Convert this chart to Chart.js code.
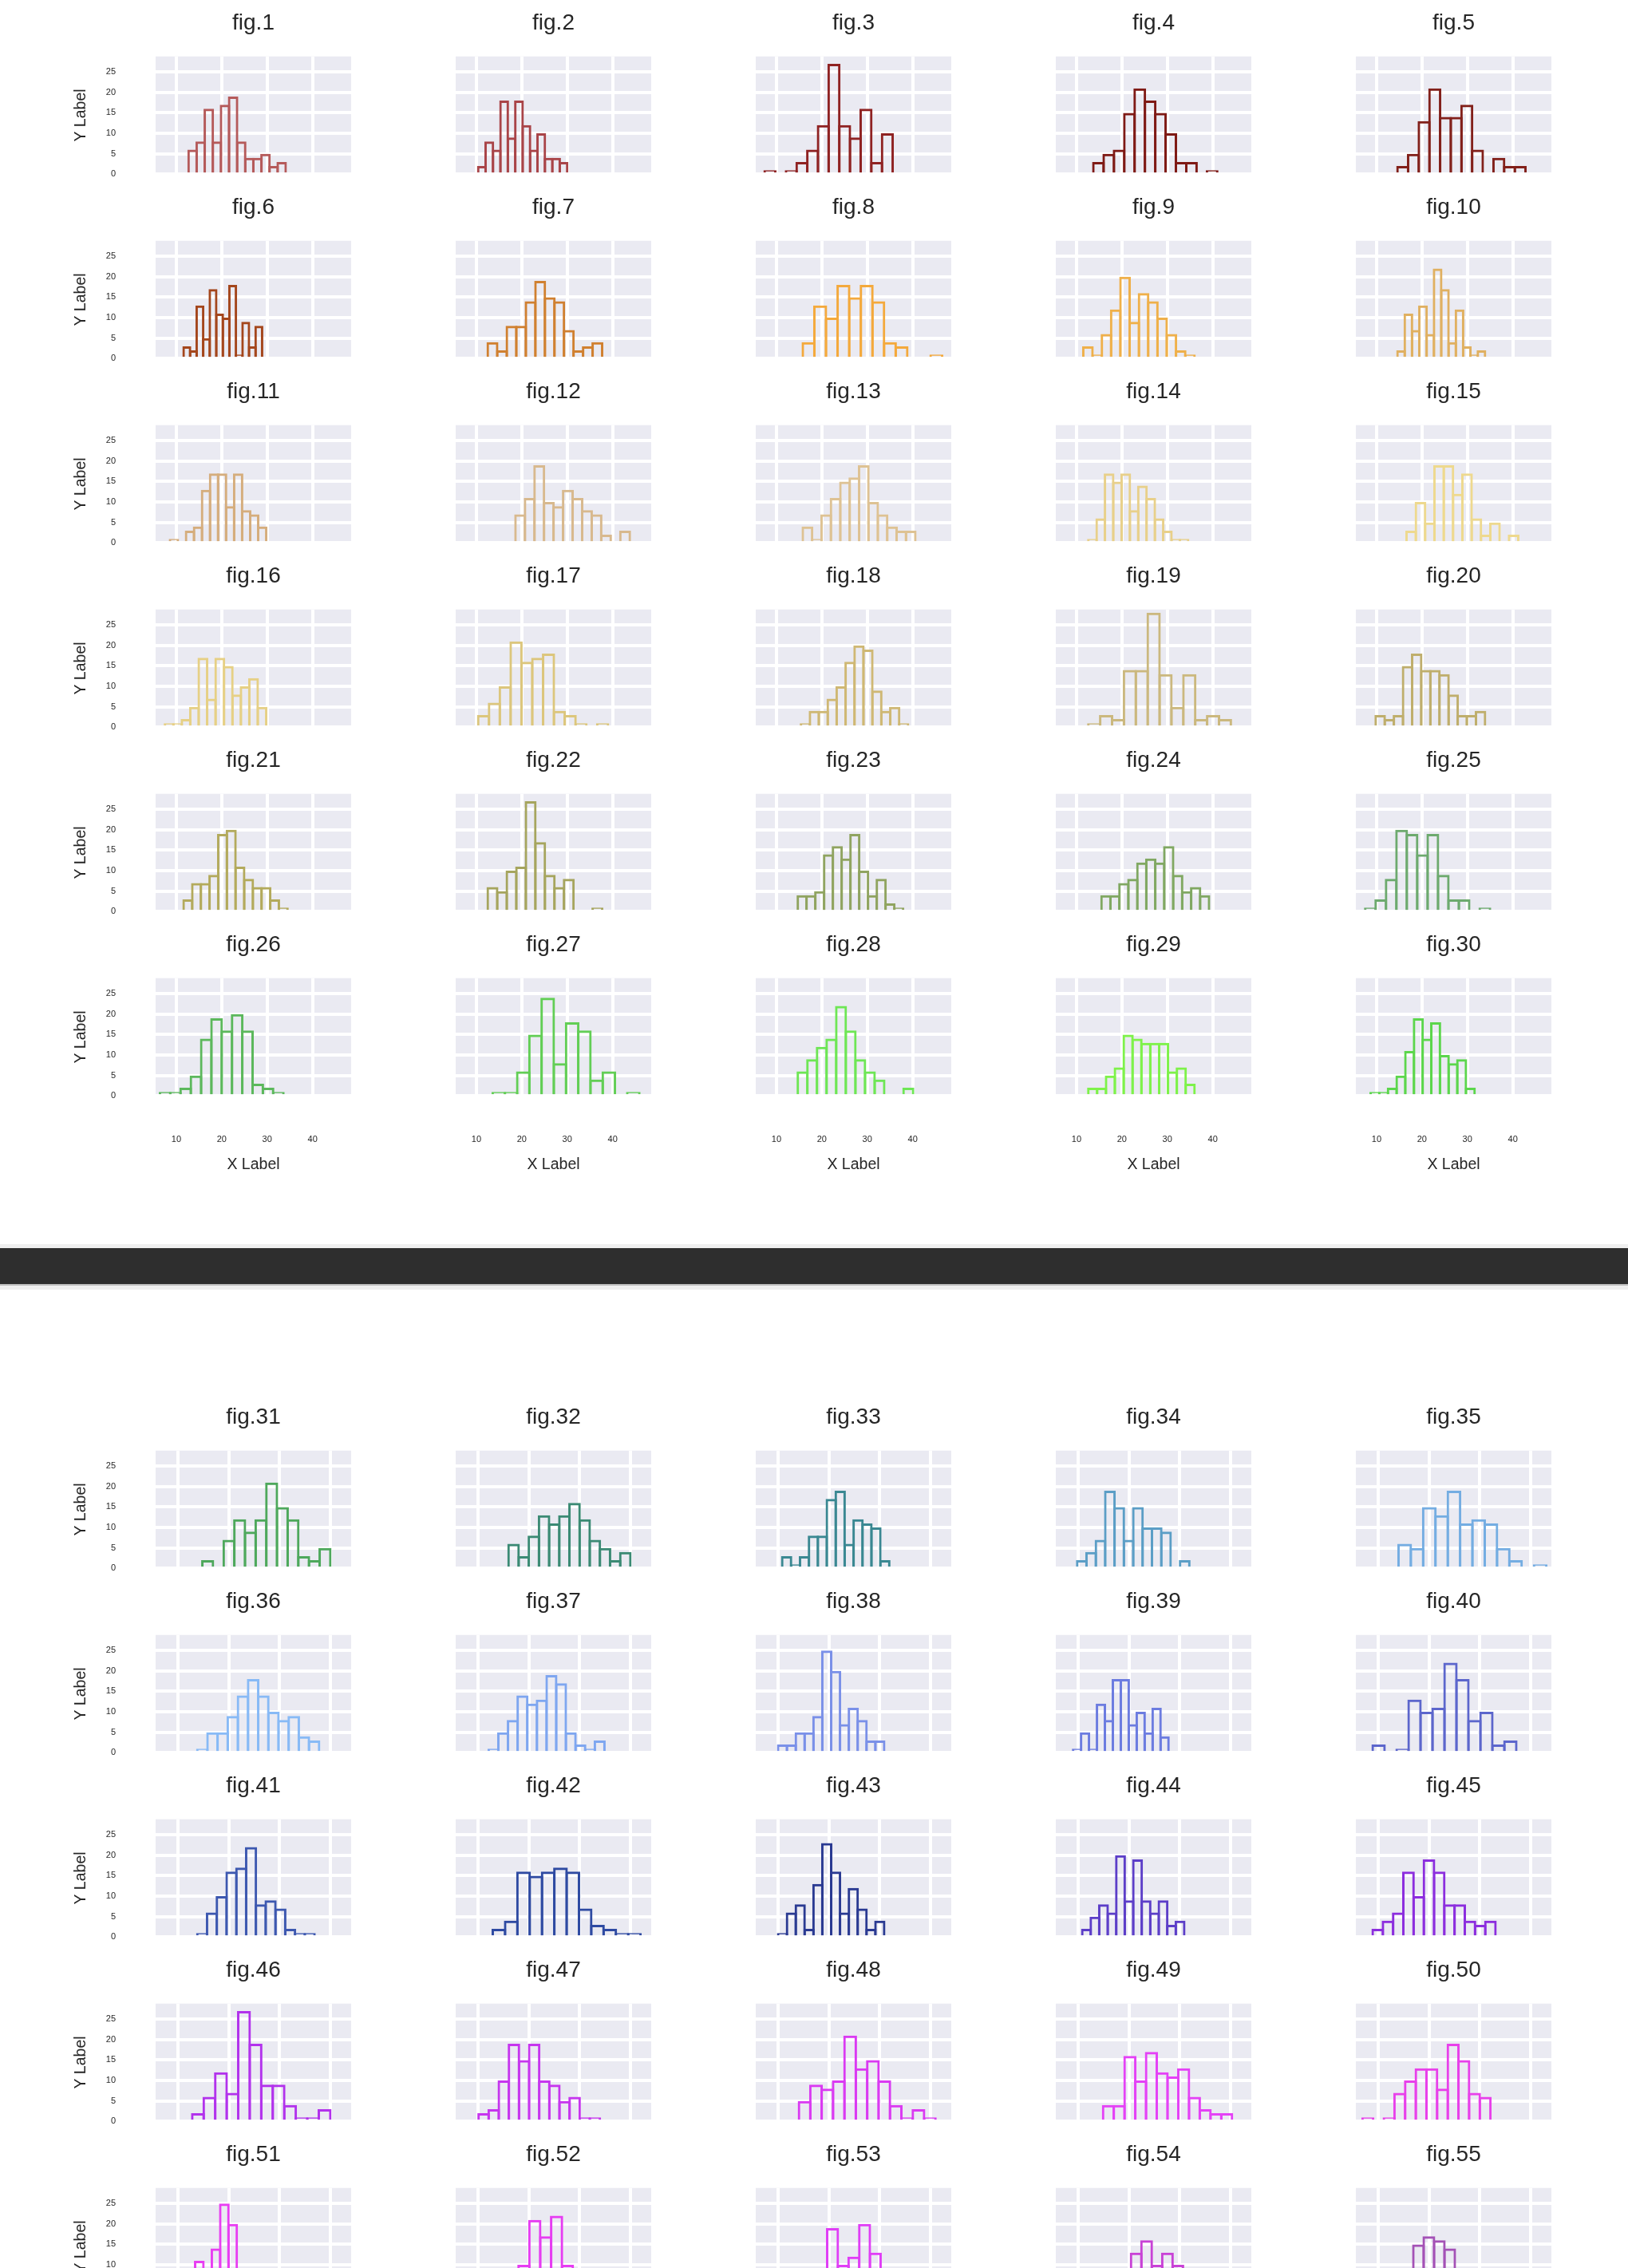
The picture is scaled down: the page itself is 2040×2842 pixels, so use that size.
<!DOCTYPE html>
<html>
<head>
<meta charset="utf-8">
<title>fig grid</title>
<script src="https://cdn.jsdelivr.net/npm/chart.js@4.4.1/dist/chart.umd.min.js"></script>
<style>
  html, body { margin: 0; padding: 0; background: #fff; width: 2040px; height: 2842px; overflow: hidden; }
  #page { position: relative; width: 2040px; height: 2842px; overflow: hidden; }
  #page canvas { position: absolute; }
  .strip { position: absolute; left: 0; width: 2040px; }
</style>
</head>
<body>
<div id="page">
  <div class="strip" style="top:1559px;height:5px;background:#efefef"></div>
  <div class="strip" style="top:1564px;height:45px;background:#2e2e2e"></div>
  <div class="strip" style="top:1609px;height:2px;background:#bdbdbd"></div>
  <div class="strip" style="top:1611px;height:5px;background:#efefef"></div>
</div>
<script>
// --- 1. 資料 (每張圖 100 筆, 12 個 bin) ---
const binLo = [
  12.7, 10.4, 7.4, 13.7, 14.6, 11.6, 12.5, 15.8, 11.5, 14.6,
  8.6, 18.6, 15.8, 12.6, 16.6, 7.5, 10.4, 15.4, 12.6, 9.8,
  11.6, 12.5, 14.7, 15.5, 7.5, 6.4, 13.6, 14.7, 12.6, 8.7,
  14.8, 16.0, 10.8, 9.8, 14.0, 13.8, 12.1, 10.0, 9.0, 8.9,
  13.8, 12.9, 10.0, 10.8, 8.9, 12.8, 10.1, 14.1, 14.9, 6.9,
  10.1, 9.4, 11.25, 12.2, 8.7,
];
const binHi = [
  34.1, 30.0, 35.6, 41.0, 42.8, 28.9, 37.7, 46.5, 36.0, 33.9,
  29.8, 43.8, 40.6, 34.6, 41.2, 29.8, 39.0, 39.0, 44.0, 33.9,
  34.5, 37.7, 37.9, 39.2, 35.0, 33.6, 45.9, 40.1, 36.0, 31.6,
  40.0, 40.0, 31.9, 31.9, 43.1, 37.8, 34.9, 30.9, 27.8, 37.2,
  36.9, 42.0, 30.9, 30.9, 33.1, 40.0, 34.0, 41.0, 40.3, 32.1,
  29.8, 35.1, 36.5, 36.8, 33.3,
];
const counts = [
  [6, 8, 16, 8, 17, 19, 8, 4, 4, 5, 2, 3],
  [2, 8, 6, 18, 9, 18, 12, 6, 10, 4, 4, 3],
  [1, 0, 1, 3, 6, 12, 27, 12, 9, 16, 3, 10],
  [3, 5, 6, 15, 21, 18, 15, 10, 3, 3, 0, 1],
  [2, 5, 13, 21, 14, 14, 17, 6, 0, 4, 2, 2],
  [3, 2, 13, 5, 17, 11, 10, 18, 1, 9, 3, 8],
  [4, 2, 8, 8, 14, 19, 15, 14, 7, 2, 3, 4],
  [4, 13, 10, 18, 15, 18, 14, 4, 3, 0, 0, 1],
  [3, 1, 6, 12, 20, 9, 16, 14, 10, 6, 2, 1],
  [2, 11, 7, 13, 6, 22, 17, 4, 12, 3, 1, 2],
  [1, 0, 3, 4, 13, 17, 17, 9, 17, 8, 7, 4],
  [7, 11, 19, 10, 9, 13, 11, 8, 7, 2, 0, 3],
  [4, 1, 7, 11, 15, 16, 19, 10, 7, 4, 3, 3],
  [1, 6, 17, 15, 17, 8, 14, 11, 6, 3, 1, 1],
  [3, 10, 5, 19, 19, 12, 17, 6, 2, 5, 0, 2],
  [1, 1, 2, 5, 17, 7, 17, 15, 8, 10, 12, 5],
  [3, 6, 10, 21, 16, 17, 18, 4, 3, 1, 0, 1],
  [1, 4, 4, 7, 10, 16, 20, 19, 9, 4, 5, 1],
  [1, 3, 2, 14, 14, 28, 13, 5, 13, 2, 3, 2],
  [3, 2, 3, 15, 18, 14, 14, 13, 8, 3, 3, 4],
  [3, 7, 7, 9, 19, 20, 11, 8, 6, 6, 3, 1],
  [6, 5, 10, 11, 27, 17, 9, 6, 8, 0, 0, 1],
  [4, 4, 5, 14, 16, 13, 19, 10, 4, 8, 2, 1],
  [4, 4, 7, 8, 12, 13, 12, 16, 9, 5, 6, 4],
  [1, 3, 8, 20, 19, 14, 19, 9, 3, 3, 0, 1],
  [1, 1, 2, 5, 14, 19, 16, 20, 16, 3, 2, 1],
  [1, 1, 6, 15, 24, 8, 18, 16, 4, 6, 0, 1],
  [6, 9, 12, 14, 22, 16, 9, 6, 4, 0, 0, 2],
  [2, 2, 5, 7, 15, 14, 13, 13, 13, 6, 7, 3],
  [1, 1, 2, 5, 11, 19, 14, 18, 10, 8, 9, 2],
  [2, 0, 7, 12, 9, 12, 21, 15, 12, 3, 2, 5],
  [6, 3, 8, 13, 11, 13, 16, 12, 7, 5, 2, 4],
  [3, 1, 3, 8, 8, 17, 19, 6, 12, 11, 10, 2],
  [2, 4, 7, 19, 15, 7, 15, 10, 10, 9, 0, 2],
  [6, 5, 15, 13, 19, 11, 12, 11, 5, 2, 0, 1],
  [1, 5, 5, 9, 14, 18, 14, 10, 8, 9, 4, 3],
  [1, 5, 8, 14, 12, 13, 19, 17, 5, 2, 1, 3],
  [2, 2, 5, 5, 9, 25, 20, 7, 11, 8, 3, 3],
  [1, 5, 1, 12, 8, 18, 18, 7, 10, 5, 11, 4],
  [2, 0, 1, 13, 10, 11, 22, 18, 8, 10, 2, 3],
  [1, 6, 10, 16, 17, 22, 8, 9, 7, 2, 1, 1],
  [2, 4, 16, 15, 16, 17, 16, 7, 3, 2, 1, 1],
  [1, 6, 8, 2, 13, 23, 16, 6, 12, 7, 2, 4],
  [2, 5, 8, 6, 20, 9, 19, 9, 6, 9, 3, 4],
  [2, 4, 6, 16, 10, 19, 16, 8, 8, 4, 3, 4],
  [2, 6, 12, 7, 27, 19, 9, 9, 4, 1, 1, 3],
  [2, 3, 10, 19, 15, 19, 10, 9, 5, 6, 1, 1],
  [5, 9, 8, 10, 21, 13, 15, 10, 4, 1, 3, 1],
  [4, 4, 16, 10, 17, 12, 11, 13, 6, 3, 2, 2],
  [1, 0, 1, 7, 10, 13, 13, 8, 19, 15, 7, 6],
  [2, 5, 11, 9, 14, 25, 20, 7, 4, 2, 1, 0],
  [1, 2, 4, 6, 10, 21, 17, 22, 10, 4, 2, 1],
  [1, 3, 4, 8, 19, 10, 12, 20, 13, 6, 3, 1],
  [2, 4, 7, 9, 13, 16, 10, 13, 10, 8, 6, 2],
  [1, 3, 5, 9, 15, 17, 16, 14, 9, 6, 3, 2],
];
const lineColors = [
  "#b55a5a", "#a94448", "#8f2222", "#7f1a15", "#82201a",
  "#a4461c", "#d08030", "#f4a93c", "#efb04a", "#e0b060",
  "#d5ad7c", "#d8b98e", "#dec293", "#e8d08a", "#eed98e",
  "#e6d085", "#dcc67c", "#cfb874", "#cbb87e", "#bfae6c",
  "#b3aa5c", "#a6a55e", "#90a460", "#80a862", "#6daa6e",
  "#5cb85c", "#62ce55", "#6ee655", "#7ef24a", "#5cd64c",
  "#4ea85c", "#3b8a74", "#3a8892", "#5b9ec6", "#74ade2",
  "#88baf6", "#7ea6f0", "#7a90e8", "#6c7ce0", "#5c66cc",
  "#3d58b0", "#2e4aa2", "#2a3a92", "#5c3ec8", "#8c2ede",
  "#b232ec", "#c636ee", "#da3af2", "#e442f6", "#e840ea",
  "#e83ef2", "#e63cf2", "#e03ef6", "#c842d6", "#a452b6",
];

// x 軸範圍 (上半 / 下半), y 軸範圍
const xRangeTop = [5.45, 48.5];
const xRangeBottom = [5.6, 44.1];
const yMax = 28.8;
const yStep = 5;
const xStep = 10;

// --- 2. 版面設定 ---
const FONT = "'Liberation Sans', Arial, sans-serif";
const TEXT_COLOR = "#262626";
const CELL_W = 376;
const CELL_H = 231;
const PLOT_LEFT = 130;
const PLOT_BOTTOM = 218.3;
const PLOT_W = 245;
const EDGE_W = 3;
const sectionTops = [0, 1747];

const page = document.getElementById("page");

const axesBackground = {
  id: "axesBackground",
  beforeDraw(chart) {
    const { ctx, chartArea } = chart;
    ctx.save();
    ctx.fillStyle = "#eaeaf2";
    ctx.fillRect(
      chartArea.left,
      chartArea.top,
      chartArea.right - chartArea.left,
      chartArea.bottom - chartArea.top
    );
    ctx.restore();
  },
};

// --- 3. 畫單張直方圖 ---
function drawHist(idx) {
  const section = idx < 30 ? 0 : 1;
  const local = idx - section * 30;
  const row = Math.floor(local / 5);
  const col = local % 5;
  const lastRow = section === 0 ? row === 5 : row === 4;
  const firstCol = col === 0;
  const height = lastRow ? 360 : CELL_H;

  const canvas = document.createElement("canvas");
  canvas.width = CELL_W;
  canvas.height = height;
  canvas.style.left = 65 + CELL_W * col + "px";
  canvas.style.top = sectionTops[section] + CELL_H * row + "px";
  page.appendChild(canvas);

  const [xmin, xmax] = section === 0 ? xRangeTop : xRangeBottom;
  const values = counts[idx];
  const binW = (binHi[idx] - binLo[idx]) / values.length;
  const points = values.map((c, i) => ({ x: binLo[idx] + (i + 0.5) * binW, y: c }));
  // 讓相鄰長條的邊線重疊, 看起來像 matplotlib 的單線
  const binPx = (binW / (xmax - xmin)) * PLOT_W;

  new Chart(canvas, {
    type: "bar",
    data: {
      datasets: [
        {
          data: points,
          borderColor: lineColors[idx],
          backgroundColor: "rgba(0,0,0,0)",
          borderWidth: EDGE_W,
          borderSkipped: "start",
          barPercentage: 1 + EDGE_W / binPx,
          categoryPercentage: 1,
          inflateAmount: 0,
        },
      ],
    },
    options: {
      responsive: false,
      animation: false,
      devicePixelRatio: 1,
      layout: { padding: { left: 0, right: 1, top: 0, bottom: 0 } },
      plugins: {
        legend: { display: false },
        tooltip: { enabled: false },
        title: {
          display: true,
          text: "fig." + (idx + 1),
          color: TEXT_COLOR,
          fullSize: false,
          font: { family: FONT, size: 28, weight: "normal" },
          padding: { top: 12.5, bottom: 24.6 },
        },
      },
      scales: {
        x: {
          type: "linear",
          min: xmin,
          max: xmax,
          offset: false,
          border: { display: false },
          grid: {
            offset: false,
            color: "#ffffff",
            lineWidth: 4,
            drawTicks: lastRow,
            tickLength: 47.8,
            tickColor: "rgba(0,0,0,0)",
          },
          ticks: {
            display: lastRow,
            stepSize: xStep,
            includeBounds: false,
            autoSkip: false,
            maxRotation: 0,
            padding: 0,
            color: TEXT_COLOR,
            font: { family: FONT, size: 11 },
          },
          title: {
            display: lastRow,
            text: "X Label",
            color: TEXT_COLOR,
            font: { family: FONT, size: 19.5 },
            padding: { top: 0, bottom: 43.3 },
          },
          afterFit: (scale) => {
            scale.height = height - PLOT_BOTTOM;
          },
        },
        y: {
          min: 0,
          max: yMax,
          border: { display: false },
          grid: {
            color: "#ffffff",
            lineWidth: 4,
            drawTicks: firstCol,
            tickLength: 50,
            tickColor: "rgba(0,0,0,0)",
          },
          ticks: {
            display: firstCol,
            stepSize: yStep,
            includeBounds: false,
            padding: 0,
            color: TEXT_COLOR,
            font: { family: FONT, size: 11 },
          },
          title: {
            display: firstCol,
            text: "Y Label",
            color: TEXT_COLOR,
            font: { family: FONT, size: 19.5 },
            padding: { top: 25.3, bottom: 0 },
          },
          afterFit: (scale) => {
            scale.width = PLOT_LEFT;
          },
        },
      },
    },
    plugins: [axesBackground],
  });
}

counts.forEach((_, idx) => drawHist(idx));
</script>
</body>
</html>
